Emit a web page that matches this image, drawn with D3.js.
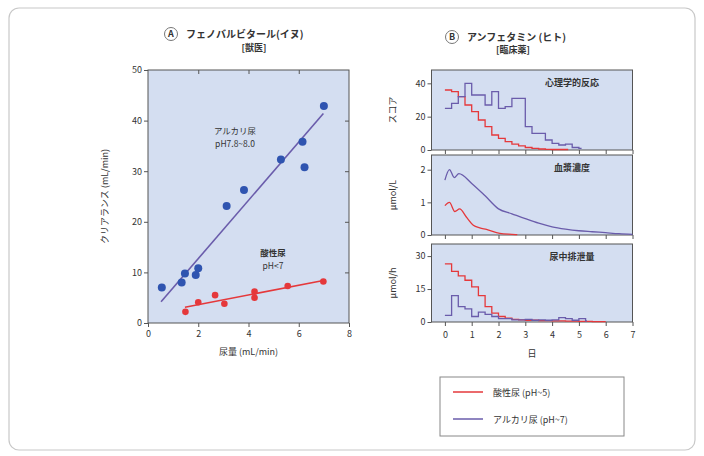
<!DOCTYPE html>
<html>
<head>
<meta charset="utf-8">
<script src="https://cdn.jsdelivr.net/npm/d3@7"></script>
<style>
  body { margin: 0; background: #fff; }
  text { font-family: "Noto Sans CJK JP", "Noto Sans", sans-serif; fill: #333; }
</style>
</head>
<body>
<div id="chart"></div>
<script>
// --- panel A: phenobarbital (dog)
const alkX = [0.55, 1.34, 1.47, 1.9, 2.0, 3.13, 3.82, 5.29, 6.15, 6.23, 7.0];
const alkY = [7.0, 8.0, 9.8, 9.5, 10.8, 23.1, 26.3, 32.3, 35.8, 30.8, 42.9];
const acidX = [1.49, 2.0, 2.67, 3.04, 4.24, 4.24, 5.56, 6.98];
const acidY = [2.2, 4.1, 5.5, 3.8, 6.2, 5.0, 7.3, 8.2];
const alkFit = [[0.52, 4.2], [6.98, 41.4]];
const acidFit = [[1.47, 3.1], [6.98, 8.4]];
const aXTicks = [0, 2, 4, 6, 8];
const aYTicks = [0, 10, 20, 30, 40, 50];

// --- panel B: amphetamine (human)
const dayTicks = [0, 1, 2, 3, 4, 5, 6, 7];
const psychAcidT = [0, 0.25, 0.5, 0.75, 1.0, 1.25, 1.5, 1.75, 2.0, 2.25, 2.5, 2.75, 3.0, 3.25, 3.5, 3.75, 4.0, 4.6];
const psychAcidV = [36, 35, 32, 27, 23, 18, 14, 9, 7, 5, 3.5, 2.5, 1.5, 1, 0.6, 0.4, 0.3, 0.3];
const psychAlkT = [0, 0.25, 0.5, 0.75, 1.0, 1.25, 1.5, 1.75, 2.0, 2.25, 2.5, 2.75, 3.0, 3.25, 3.5, 3.75, 4.0, 4.25, 4.5, 4.75, 5.0, 5.1];
const psychAlkV = [25, 28, 32, 40, 33, 33, 27, 35, 25, 26, 31, 31, 14, 10, 10, 6, 4, 3, 3.5, 1.5, 1, 1];
const plasmaAlkT = [0, 0.17, 0.35, 0.52, 1.0, 1.5, 2.0, 2.5, 3.0, 3.5, 4.0, 4.5, 5.0, 5.5, 6.0, 6.5, 7.0];
const plasmaAlkV = [1.68, 2.0, 1.76, 1.88, 1.58, 1.2, 0.8, 0.65, 0.5, 0.36, 0.25, 0.18, 0.13, 0.1, 0.07, 0.04, 0.02];
const plasmaAcidT = [0, 0.17, 0.37, 0.55, 0.8, 1.06, 1.3, 1.55, 2.05, 2.5, 2.7];
const plasmaAcidV = [0.9, 1.0, 0.72, 0.8, 0.55, 0.3, 0.22, 0.17, 0.05, 0.02, 0.01];
const urineAcidT = [0, 0.25, 0.5, 0.75, 1.0, 1.25, 1.5, 1.75, 2.0, 2.25, 2.5, 2.75, 3.0, 3.5, 4.0, 4.5, 5.0, 5.5, 6.0];
const urineAcidV = [26.5, 23, 21, 19, 16, 12, 7, 4, 2.5, 1.8, 1.2, 1, 0.8, 0.6, 0.5, 0.4, 0.3, 0.2, 0.2];
const urineAlkT = [0, 0.25, 0.5, 0.75, 1.0, 1.25, 1.5, 1.75, 2.0, 2.25, 2.5, 2.75, 3.0, 3.25, 3.5, 3.75, 4.0, 4.25, 4.5, 4.75, 5.0, 5.25, 5.3];
const urineAlkV = [3, 12, 7, 6, 2.5, 4.5, 3.5, 2.5, 1.5, 1.5, 1, 1, 1.2, 0.8, 1, 0.8, 1, 2, 1.5, 0.8, 1.5, 0.5, 0.5];

const RED = '#e5383b';
const PURPLE = '#6a5cab';
const DOT = '#2f54b0';
const BG = '#d4def1';
const FRAME = '#555';

const svg = d3.select('#chart').append('svg')
    .attr('width', 704)
    .attr('height', 456);

// outer rounded frame
svg.append('rect')
    .attr('x', 9).attr('y', 8)
    .attr('width', 686).attr('height', 442)
    .attr('rx', 10)
    .attr('fill', 'none')
    .attr('stroke', '#c8c8c8')
    .attr('stroke-width', 1.2);

function circledLetter(cx, cy, letter) {
  svg.append('circle')
      .attr('cx', cx).attr('cy', cy).attr('r', 6.5)
      .attr('fill', '#fff').attr('stroke', '#777').attr('stroke-width', 1);
  svg.append('text')
      .attr('x', cx).attr('y', cy + 3.3)
      .attr('text-anchor', 'middle')
      .attr('font-size', 9).attr('font-weight', 'bold')
      .text(letter);
}

function styleAxis(g) {
  g.select('.domain').remove();
  g.selectAll('line').attr('stroke', FRAME);
  g.selectAll('text').attr('font-size', 9).attr('fill', '#333')
      .style('font-family', '"Noto Sans CJK JP", sans-serif');
}

// ---------------- Panel A ----------------
const ax = d3.scaleLinear().domain([0, 8]).range([148, 349]);
const ay = d3.scaleLinear().domain([0, 50]).range([323, 70]);

circledLetter(171, 34, 'A');
svg.append('text').attr('x', 186).attr('y', 38)
    .attr('font-size', 10).attr('font-weight', 'bold')
    .text('フェノバルビタール(イヌ)');
svg.append('text').attr('x', 254).attr('y', 51)
    .attr('text-anchor', 'middle')
    .attr('font-size', 9).attr('font-weight', 'bold')
    .text('[獣医]');

svg.append('rect')
    .attr('x', ax(0)).attr('y', ay(50))
    .attr('width', ax(8) - ax(0)).attr('height', ay(0) - ay(50))
    .attr('fill', BG).attr('stroke', FRAME).attr('stroke-width', 1);

svg.append('g').attr('transform', `translate(0,${ay(0)})`)
    .call(d3.axisBottom(ax).tickValues(aXTicks).tickSize(4).tickPadding(4))
    .call(styleAxis);
svg.append('g').attr('transform', `translate(${ax(0)},0)`)
    .call(d3.axisLeft(ay).tickValues(aYTicks).tickSize(4).tickPadding(2))
    .call(styleAxis);
// inner ticks on top and right
svg.append('g').attr('transform', `translate(0,${ay(50)})`)
    .call(d3.axisBottom(ax).tickValues([2, 4, 6]).tickSize(4).tickFormat(''))
    .call(styleAxis);
svg.append('g').attr('transform', `translate(${ax(8)},0)`)
    .call(d3.axisLeft(ay).tickValues([10, 20, 30, 40]).tickSize(4).tickFormat(''))
    .call(styleAxis);

svg.append('text')
    .attr('transform', `translate(108,${(ay(0) + ay(50)) / 2}) rotate(-90)`)
    .attr('text-anchor', 'middle').attr('font-size', 9)
    .text('クリアランス (mL/min)');
svg.append('text')
    .attr('x', (ax(0) + ax(8)) / 2).attr('y', 355)
    .attr('text-anchor', 'middle').attr('font-size', 9)
    .text('尿量 (mL/min)');

const fitLine = d3.line().x(d => ax(d[0])).y(d => ay(d[1]));
svg.append('path').datum(alkFit)
    .attr('d', fitLine).attr('fill', 'none')
    .attr('stroke', PURPLE).attr('stroke-width', 1.6);
svg.append('path').datum(acidFit)
    .attr('d', fitLine).attr('fill', 'none')
    .attr('stroke', RED).attr('stroke-width', 1.6);

svg.append('g').selectAll('circle')
    .data(alkX.map((x, i) => [x, alkY[i]]))
    .join('circle')
    .attr('cx', d => ax(d[0])).attr('cy', d => ay(d[1]))
    .attr('r', 4).attr('fill', DOT);
svg.append('g').selectAll('circle')
    .data(acidX.map((x, i) => [x, acidY[i]]))
    .join('circle')
    .attr('cx', d => ax(d[0])).attr('cy', d => ay(d[1]))
    .attr('r', 3.3).attr('fill', RED);

svg.append('text').attr('x', 235).attr('y', 134)
    .attr('text-anchor', 'middle').attr('font-size', 8.5)
    .text('アルカリ尿');
svg.append('text').attr('x', 235).attr('y', 147)
    .attr('text-anchor', 'middle').attr('font-size', 8.5)
    .text('pH7.8~8.0');
svg.append('text').attr('x', 273).attr('y', 256)
    .attr('text-anchor', 'middle').attr('font-size', 8.5).attr('font-weight', 'bold')
    .text('酸性尿');
svg.append('text').attr('x', 273).attr('y', 269)
    .attr('text-anchor', 'middle').attr('font-size', 8.5)
    .text('pH<7');

// ---------------- Panel B ----------------
circledLetter(452, 37, 'B');
svg.append('text').attr('x', 467).attr('y', 41)
    .attr('font-size', 10).attr('font-weight', 'bold')
    .text('アンフェタミン (ヒト)');
svg.append('text').attr('x', 513).attr('y', 53)
    .attr('text-anchor', 'middle')
    .attr('font-size', 9).attr('font-weight', 'bold')
    .text('[臨床薬]');

const bx = d3.scaleLinear().domain([-0.5, 7]).range([431.5, 632.5]);

const panels = [
  { top: 70, bottom: 150, ymax: 48, ticks: [0, 20, 40], label: 'スコア', name: '心理学的反応',
    step: true, series: [[psychAcidT, psychAcidV, RED], [psychAlkT, psychAlkV, PURPLE]], lastAxis: false },
  { top: 155, bottom: 235, ymax: 2.45, ticks: [0, 1, 2], label: 'μmol/L', name: '血漿濃度',
    step: false, series: [[plasmaAcidT, plasmaAcidV, RED], [plasmaAlkT, plasmaAlkV, PURPLE]], lastAxis: false },
  { top: 244, bottom: 322, ymax: 35.5, ticks: [0, 15, 30], label: 'μmol/h', name: '尿中排泄量',
    step: true, series: [[urineAcidT, urineAcidV, RED], [urineAlkT, urineAlkV, PURPLE]], lastAxis: true }
];

panels.forEach(p => {
  const y = d3.scaleLinear().domain([0, p.ymax]).range([p.bottom, p.top]);

  svg.append('rect')
      .attr('x', bx(-0.5)).attr('y', p.top)
      .attr('width', bx(7) - bx(-0.5)).attr('height', p.bottom - p.top)
      .attr('fill', BG).attr('stroke', FRAME).attr('stroke-width', 1);

  const xa = d3.axisBottom(bx).tickValues(dayTicks).tickSize(4).tickPadding(6);
  if (!p.lastAxis) xa.tickFormat('');
  svg.append('g').attr('transform', `translate(0,${p.bottom})`)
      .call(xa).call(styleAxis);
  svg.append('g').attr('transform', `translate(${bx(-0.5)},0)`)
      .call(d3.axisLeft(y).tickValues(p.ticks).tickFormat(d3.format('d')).tickSize(4).tickPadding(2))
      .call(styleAxis);

  svg.append('text')
      .attr('transform', `translate(396,${(p.top + p.bottom) / 2}) rotate(-90)`)
      .attr('text-anchor', 'middle').attr('font-size', 9)
      .text(p.label);
  svg.append('text')
      .attr('x', 572).attr('y', p.top + 16)
      .attr('text-anchor', 'middle').attr('font-size', 9).attr('font-weight', 'bold')
      .text(p.name);

  const line = d3.line()
      .x(d => bx(d[0])).y(d => y(d[1]))
      .curve(p.step ? d3.curveStepAfter : d3.curveMonotoneX);
  p.series.forEach(([t, v, c]) => {
    svg.append('path')
        .datum(t.map((d, i) => [d, v[i]]))
        .attr('d', line).attr('fill', 'none')
        .attr('stroke', c).attr('stroke-width', 1.3);
  });
});

svg.append('text')
    .attr('x', (bx(-0.5) + bx(7)) / 2).attr('y', 357)
    .attr('text-anchor', 'middle').attr('font-size', 9)
    .text('日');

// legend
svg.append('rect')
    .attr('x', 440).attr('y', 377).attr('width', 184).attr('height', 59)
    .attr('fill', '#fff').attr('stroke', '#888').attr('stroke-width', 1);
const legendItems = [['酸性尿 (pH~5)', RED], ['アルカリ尿 (pH~7)', PURPLE]];
legendItems.forEach(([name, c], i) => {
  const ly = 392 + i * 27;
  svg.append('line')
      .attr('x1', 453).attr('x2', 483).attr('y1', ly).attr('y2', ly)
      .attr('stroke', c).attr('stroke-width', 1.5);
  svg.append('text').attr('x', 493).attr('y', ly + 3.5)
      .attr('font-size', 9)
      .text(name);
});
</script>
</body>
</html>
